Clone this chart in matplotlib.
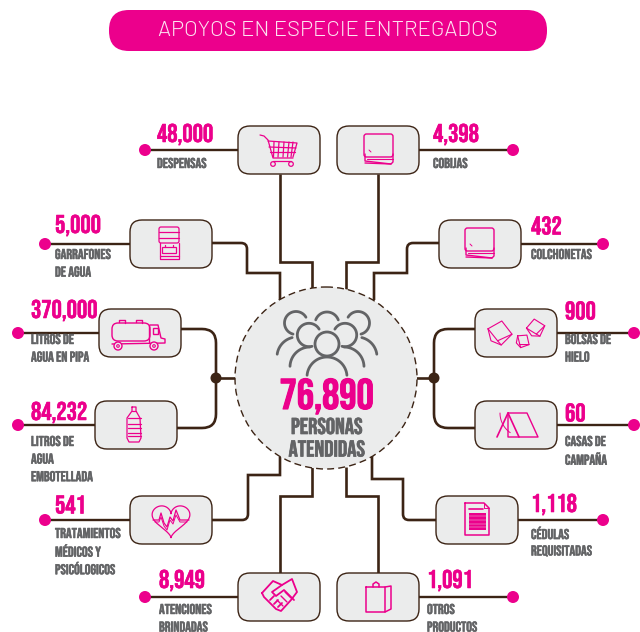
import numpy as np
import matplotlib
matplotlib.use('Agg')
import matplotlib.pyplot as plt
import matplotlib.patheffects as pe
from matplotlib.patches import Circle, FancyBboxPatch, PathPatch, Rectangle
from matplotlib.path import Path

ROSA = '#ec008c'
CAFE = '#3c2415'
GRIS = '#636466'
FONDO = '#ebecec'
COND = ['Bebas Neue', 'DejaVu Sans']

titulo = 'APOYOS EN ESPECIE ENTREGADOS'
total = 76890
total_label = ['PERSONAS', 'ATENDIDAS']

# values
valores = [48000, 5000, 370000, 84232, 541, 8949, 4398, 432, 900, 60, 1118, 1091]
etiquetas = [
    ['DESPENSAS'],
    ['GARRAFONES', 'DE AGUA'],
    ['LITROS DE', 'AGUA EN PIPA'],
    ['LITROS DE', 'AGUA', 'EMBOTELLADA'],
    ['TRATAMIENTOS', 'MÉDICOS Y', 'PSICÓLOGICOS'],
    ['ATENCIONES', 'BRINDADAS'],
    ['COBIJAS'],
    ['COLCHONETAS'],
    ['BOLSAS DE', 'HIELO'],
    ['CASAS DE', 'CAMPAÑA'],
    ['CÉDULAS', 'REQUISITADAS'],
    ['OTROS', 'PRODUCTOS'],
]

# layout: box left, box top, dot x, number x, number y
cajas = [
    (238, 126, 145, 157, 134), (130, 220, 45, 55, 225), (99, 309, 18, 31, 310),
    (95, 401, 18, 31, 412), (130, 496, 45, 55, 504), (238, 573, 145, 159, 580),
    (337, 126, 513, 433, 134), (439, 220, 603, 531, 225), (475, 309, 634, 565, 310),
    (475, 401, 634, 565, 412), (436, 496, 603, 531, 504), (337, 573, 513, 427, 580),
]

# connectors to the central circle: points, radius of first corner
rutas = [
    ([(280, 174), (280, 262), (312, 262), (312, 290)], 0),
    ([(212, 243), (247, 243), (247, 273), (280, 273), (280, 300)], 6),
    ([(180, 329), (216, 329), (216, 378)], 14),
    ([(177, 428), (216, 428), (216, 378)], 14),
    ([(212, 520), (248, 520), (248, 475), (280, 475), (280, 457)], 6),
    ([(280, 573), (280, 496), (312, 496), (312, 467)], 0),
    ([(378, 174), (378, 262), (346, 262), (346, 290)], 0),
    ([(439, 243), (407, 243), (407, 273), (374, 273), (374, 300)], 6),
    ([(475, 329), (434, 329), (434, 378)], 14),
    ([(475, 428), (434, 428), (434, 378)], 14),
    ([(436, 520), (403, 520), (403, 479), (372, 479), (372, 455)], 6),
    ([(378, 573), (378, 496), (346, 496), (346, 467)], 0),
]

fig = plt.figure(figsize=(6.4, 6.32), dpi=100)
ax = fig.add_axes([0, 0, 1, 1])
ax.set_xlim(0, 640)
ax.set_ylim(632, 0)
ax.axis('off')


def ruta(pts, r):
    verts = [pts[0]]
    codes = [Path.MOVETO]
    for i in range(1, len(pts)):
        p = np.array(pts[i], float)
        if i == 1 and r > 0:
            a = np.array(pts[0], float)
            b = np.array(pts[2], float)
            verts += [tuple(p + (a - p) / np.linalg.norm(a - p) * r), tuple(p),
                      tuple(p + (b - p) / np.linalg.norm(b - p) * r)]
            codes += [Path.LINETO, Path.CURVE3, Path.CURVE3]
        else:
            verts.append(tuple(p))
            codes.append(Path.LINETO)
    ax.add_patch(PathPatch(Path(verts, codes), fc='none', ec=CAFE, lw=1.9, zorder=1,
                           joinstyle='miter', capstyle='butt'))


def raya(pts, color=ROSA, lw=0.9, cerrar=False, z=5):
    pts = list(pts)
    if cerrar:
        pts = pts + [pts[0]]
    x, y = zip(*pts)
    ax.plot(x, y, color=color, lw=lw, zorder=z, solid_joinstyle='round', solid_capstyle='round')


def arco(cx, cy, r, a0, a1, color=ROSA, lw=0.9):
    t = np.radians(np.linspace(a0, a1, 50))
    ax.plot(cx + r * np.cos(t), cy - r * np.sin(t), color=color, lw=lw, zorder=5,
            solid_capstyle='round')


def redondo(x, y, w, h, r, color=ROSA, lw=0.9):
    ax.add_patch(FancyBboxPatch((x + r, y + r), w - 2 * r, h - 2 * r,
                                boxstyle=f'round,pad={r},rounding_size={r}',
                                fc='none', ec=color, lw=lw, zorder=5))


def carrito():
    raya([(260, 135), (264, 136), (268, 140), (273, 158), (293, 158)])
    raya([(268, 141), (297, 143), (293, 157)])
    raya([(269, 147), (296, 148)])
    raya([(270, 152), (295, 152)])
    for a, b in [(274, 273.5), (279, 278), (284, 283), (289, 287.5), (293, 291)]:
        raya([(a, 142), (b, 157)])
    for x in (273, 291):
        ax.add_patch(Circle((x, 164), 2.3, fc='none', ec=ROSA, lw=0.9, zorder=5))
    raya([(273, 161), (291, 161)])


def garrafon():
    redondo(159, 227, 20, 16, 2)
    raya([(159, 232), (179, 232)])
    raya([(159, 238), (179, 238)])
    raya([(160, 243), (160, 259), (179, 259), (179, 243)])
    raya([(160, 256), (179, 256)])
    ax.add_patch(Rectangle((162, 247), 14, 6, fc='none', ec=ROSA, lw=0.9, zorder=5))
    raya([(165, 247), (165, 245)])
    raya([(173, 247), (173, 245)])


def pipa():
    redondo(112, 323, 38, 18, 6, lw=1.0)
    raya([(119, 322), (119, 320), (125, 320), (125, 323)], lw=1.0)
    raya([(136, 322), (136, 320), (142, 320), (142, 323)], lw=1.0)
    raya([(149, 325), (149, 342)], lw=1.0)
    raya([(150, 325), (158, 325), (161, 338), (165, 339), (165, 343), (112, 344)], lw=1.0)
    ax.add_patch(Rectangle((153, 328), 5, 6, fc='none', ec=ROSA, lw=1.0, zorder=5))
    for x in (118, 154):
        ax.add_patch(Circle((x, 346), 4, fc='#ebecec', ec=ROSA, lw=1.0, zorder=6))
        ax.add_patch(Circle((x, 346), 1.3, fc='none', ec=ROSA, lw=0.8, zorder=6))


def botella():
    raya([(132, 407), (136, 407), (136, 411), (140, 418), (141, 438), (139, 442),
          (129, 442), (127, 438), (127, 418), (132, 411)], cerrar=True)
    for y in (411, 418, 424, 428, 433, 436):
        raya([(127.5 if y > 412 else 132, y), (140.5 if y > 412 else 136, y)])


def corazon():
    t = np.radians(np.linspace(0, 360, 200))
    hx = 16 * np.sin(t) ** 3
    hy = 13 * np.cos(t) - 5 * np.cos(2 * t) - 2 * np.cos(3 * t) - np.cos(4 * t)
    ax.plot(171 + hx * 1.18, 519 - hy * 1.1, color=ROSA, lw=0.9, zorder=5)
    raya([(153, 520), (159, 520), (161, 513), (164, 523), (167, 527), (170, 517), (173, 521),
          (176, 510), (180, 520), (189, 520)])
    raya([(155, 522), (159, 522), (161, 517), (164, 526), (167, 530), (170, 520), (173, 524),
          (176, 515), (180, 522), (187, 522)], lw=0.7)


def apreton():
    raya([(262, 593), (273, 581), (282, 585), (292, 579), (297, 592), (291, 600), (281, 611),
          (276, 609), (264, 597)], cerrar=True, lw=1.3)
    raya([(282, 585), (272, 592), (276, 596), (284, 590), (294, 600)], lw=1.3)
    for x, y in [(270, 600), (274, 604), (278, 607)]:
        raya([(x, y), (x + 4, y - 4)], lw=1.3)
    for x, y in [(283, 606), (287, 602), (291, 598)]:
        raya([(x, y), (x - 6, y - 6)], lw=1.0)


def cobija(x, y):
    redondo(x, y, 29, 23, 2.5, lw=1.0)
    raya([(x + 1, y + 20), (x + 1, y + 27), (x + 27, y + 30), (x + 29, y + 28), (x + 29, y + 20)], lw=1.0)
    raya([(x + 3, y + 25), (x + 29, y + 25)], lw=0.8)
    raya([(x + 1, y + 29), (x + 27, y + 30)], lw=1.0)
    raya([(x + 5, y + 16), (x + 7, y + 18)], lw=0.7)


def cubo(x, y, s, a):
    # rotated cube outline
    c, si = np.cos(np.radians(a)), np.sin(np.radians(a))
    base = [(-1, -0.35), (0.15, -1), (1, 0.1), (-0.2, 0.65), (-0.75, 0.65), (0.1, 1.0)]
    pts = [(x + s * (p[0] * c - p[1] * si), y + s * (p[0] * si + p[1] * c)) for p in base]
    raya([pts[0], pts[1], pts[2], pts[5], pts[4]], cerrar=True, lw=0.8)
    raya([pts[0], pts[3], pts[2]], lw=0.8)
    raya([pts[3], pts[5]], lw=0.8)


def tienda():
    raya([(497, 437), (508, 413), (519, 437)], lw=1.2)
    raya([(508, 413), (527, 413), (538, 437), (508, 437), (508, 413)], lw=1.0)
    arco(524, 413, 24, 180, 235, lw=0.7)


def cedula():
    raya([(465, 503), (484, 503), (489, 508), (489, 535), (465, 535)], cerrar=True, lw=1.1)
    raya([(484, 503), (484, 508), (489, 508)], lw=0.7)
    raya([(469, 509), (483, 509)], lw=1.2)
    ax.add_patch(Rectangle((469, 513), 17, 17, fc=ROSA, ec='none', zorder=5))
    for y in (516, 520, 524, 527):
        ax.plot([469, 486], [y, y], color=FONDO, lw=0.3, zorder=6)


def bolsa():
    raya([(366, 587), (385, 587), (385, 612), (366, 612)], cerrar=True, lw=1.1)
    raya([(385, 587), (391, 586), (391, 609), (385, 612)], lw=1.1)
    raya([(373, 587), (373, 584), (376, 582), (379, 584), (379, 587)], lw=1.1)


def personas():
    g = dict(color=GRIS, lw=2.0)
    # back row
    arco(296, 323, 11.5, 30, 255, **g)
    arco(358, 323, 11.5, -75, 150, **g)
    arco(327, 324, 12, 20, 160, **g)
    arco(297, 357, 20, 104, 172, **g)
    arco(357, 357, 20, 8, 76, **g)
    # middle row
    arco(309, 335, 11.7, 30, 285, **g)
    arco(345, 335, 11.7, -105, 150, **g)
    arco(310, 367, 20, 90, 178, **g)
    arco(344, 367, 20, 2, 90, **g)
    # front
    ax.add_patch(Circle((327, 344), 12, fc=FONDO, ec=GRIS, lw=2.0, zorder=5))
    arco(327, 377, 20, 5, 175, **g)


def grueso(color, w=0.35):
    return [pe.withStroke(linewidth=w, foreground=color)]


iconos = [carrito, garrafon, pipa, botella, corazon, apreton,
          lambda: cobija(364, 134), lambda: cobija(465, 228),
          lambda: (cubo(500, 333, 12, 0), cubo(536, 328, 9, -20), cubo(523, 341, 7, 25)),
          tienda, cedula, bolsa]

# title bar
ax.add_patch(FancyBboxPatch((129, 30), 398, 1, boxstyle='round,pad=20,rounding_size=20',
                            fc=ROSA, ec='none', zorder=2))
ax.text(328, 31, titulo, ha='center', va='center', color='#fde3f1', fontsize=15.9,
        family=['Barlow', 'Lato', 'DejaVu Sans'], fontweight=300, zorder=3)

for pts, r in rutas:
    ruta(pts, r)

# junctions and central circle
for x0, x1 in [(216, 240), (434, 412)]:
    ax.plot([x0, x1], [378, 378], color=CAFE, lw=1.9, zorder=1)
    ax.add_patch(Circle((x0, 378), 5.5, fc=CAFE, ec='none', zorder=3))
ax.add_patch(Circle((326, 378), 91, fc=FONDO, ec=CAFE, lw=1.0, ls=(0, (5, 3)), zorder=3))
personas()
ax.text(326.5, 396, f'{total:,}', ha='center', va='center', color=ROSA, fontsize=31,
        family=COND, fontweight='bold', zorder=6, path_effects=grueso(ROSA, 0.8))
for i, t in enumerate(total_label):
    ax.text(326.5, 426 + i * 22.5, t, ha='center', va='center', color=GRIS, fontsize=16.5,
            family=COND, fontweight='bold', zorder=6, path_effects=grueso(GRIS, 0.5))

# boxes with their numbers
for v, lab, (bx, by, dx, nx, ny), ico in zip(valores, etiquetas, cajas, iconos):
    ly = by + 24
    ax.plot([dx, bx if dx < bx else bx + 82], [ly, ly], color=CAFE, lw=1.7, zorder=1)
    ax.add_patch(Circle((dx, ly), 6, fc=ROSA, ec='none', zorder=3))
    ax.add_patch(FancyBboxPatch((bx + 12, by + 12), 58, 24,
                                boxstyle='round,pad=12,rounding_size=12',
                                fc=FONDO, ec=CAFE, lw=1.0, zorder=3))
    ico()
    ax.text(nx, ny, f'{v:,}', ha='left', va='center', color=ROSA, fontsize=18.5,
            family=COND, fontweight='bold', zorder=6, path_effects=grueso(ROSA, 0.4))
    for i, t in enumerate(lab):
        ax.text(nx, ny + 29 + i * 17.6, t, ha='left', va='center', color=GRIS, fontsize=10.3,
                family=COND, fontweight='bold', zorder=6, path_effects=grueso(GRIS, 0.35))

fig.savefig('out.png', dpi=100)
